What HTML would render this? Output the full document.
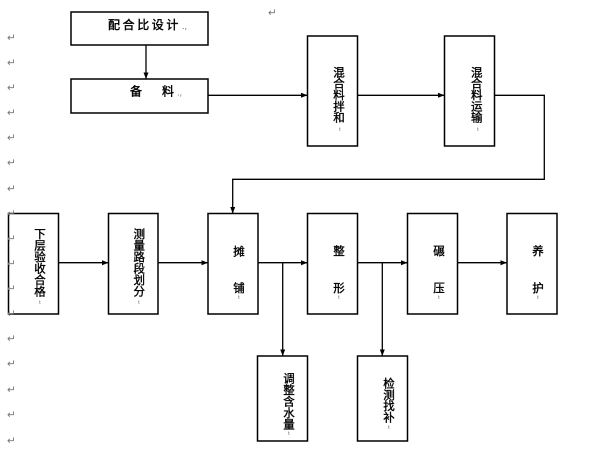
<!DOCTYPE html>
<html><head><meta charset="utf-8"><style>
html,body{margin:0;padding:0;background:#fff;width:600px;height:450px;overflow:hidden}
svg{display:block}
text{font-family:"Liberation Sans","Noto Sans CJK SC",sans-serif;fill:#000}
.c{font-size:11.5px;text-anchor:middle;stroke:#000;stroke-width:0.35px}
.m{font-size:8px;fill:#666;text-anchor:middle}
.p{font-size:10.5px;fill:#777}
</style></head><body>
<svg width="600" height="450" viewBox="0 0 600 450" xmlns="http://www.w3.org/2000/svg">
<defs>
<marker id="a" markerWidth="7" markerHeight="6" refX="6" refY="3" orient="auto" markerUnits="userSpaceOnUse">
<path d="M0,0.5 L6.5,3 L0,5.5 Z" fill="#000"/>
</marker>
</defs>
<g fill="none" stroke="#000" stroke-width="1.5">
<rect x="71" y="12" width="137" height="33"/>
<rect x="71" y="79" width="137" height="34"/>
<rect x="307.5" y="36" width="50" height="110"/>
<rect x="444.5" y="36" width="50" height="110"/>
<rect x="8.5" y="213.5" width="50" height="100.5"/>
<rect x="108.5" y="213.5" width="49.5" height="100.5"/>
<rect x="208" y="213.5" width="50" height="100.5"/>
<rect x="307.5" y="213.5" width="50" height="100.5"/>
<rect x="407.5" y="213.5" width="50" height="100.5"/>
<rect x="507" y="213.5" width="50" height="100.5"/>
<rect x="257.5" y="356" width="50" height="85"/>
<rect x="357.5" y="356" width="50" height="85"/>
</g>
<g fill="none" stroke="#000" stroke-width="1.3">
<line x1="146" y1="45" x2="146" y2="78.5" marker-end="url(#a)"/>
<line x1="208" y1="95.3" x2="307" y2="95.3" marker-end="url(#a)"/>
<line x1="357.5" y1="95.3" x2="444" y2="95.3" marker-end="url(#a)"/>
<polyline points="494.5,95.3 544.3,95.3 544.3,179.3 232.7,179.3 232.7,213" marker-end="url(#a)"/>
<line x1="58.5" y1="262.7" x2="108" y2="262.7" marker-end="url(#a)"/>
<line x1="158" y1="262.7" x2="207.5" y2="262.7" marker-end="url(#a)"/>
<line x1="258" y1="262.7" x2="307" y2="262.7" marker-end="url(#a)"/>
<line x1="357.5" y1="262.7" x2="407" y2="262.7" marker-end="url(#a)"/>
<line x1="457.5" y1="262.7" x2="506.5" y2="262.7" marker-end="url(#a)"/>
<line x1="282.7" y1="262.7" x2="282.7" y2="355.5" marker-end="url(#a)"/>
<line x1="382.3" y1="262.7" x2="382.3" y2="355.5" marker-end="url(#a)"/>
</g>
<text x="108" y="29" style="font-size:12px;letter-spacing:2.6px;stroke:#000;stroke-width:0.4px">配合比设计</text>
<text x="182" y="29" class="m" style="text-anchor:start;font-size:9px">.,</text>
<text x="136" y="95.5" style="font-size:12px;text-anchor:middle;stroke:#000;stroke-width:0.4px">备</text>
<text x="168" y="95.5" style="font-size:12px;text-anchor:middle;stroke:#000;stroke-width:0.4px">料</text>
<text x="177" y="95.5" class="m" style="text-anchor:start;font-size:9px">.,</text>
<text x="339" y="76.3" class="c">混</text><text x="339" y="87.6" class="c">合</text><text x="339" y="99" class="c">料</text><text x="339" y="110.3" class="c">拌</text><text x="339" y="121.6" class="c">和</text>
<text x="476.7" y="76.3" class="c">混</text><text x="476.7" y="87.6" class="c">合</text><text x="476.7" y="99" class="c">料</text><text x="476.7" y="110.3" class="c">运</text><text x="476.7" y="121.6" class="c">输</text>
<text x="40" y="237.8" class="c">下</text><text x="40" y="249.3" class="c">层</text><text x="40" y="260.8" class="c">验</text><text x="40" y="272.3" class="c">收</text><text x="40" y="283.8" class="c">合</text><text x="40" y="295.3" class="c">格</text>
<text x="139.3" y="237.8" class="c">测</text><text x="139.3" y="249.3" class="c">量</text><text x="139.3" y="260.8" class="c">路</text><text x="139.3" y="272.3" class="c">段</text><text x="139.3" y="283.8" class="c">划</text><text x="139.3" y="295.3" class="c">分</text>
<text x="239" y="255.7" class="c">摊</text><text x="239" y="292" class="c">铺</text>
<text x="339" y="255" class="c">整</text><text x="339" y="292" class="c">形</text>
<text x="439" y="255" class="c">碾</text><text x="439" y="292" class="c">压</text>
<text x="538" y="255" class="c">养</text><text x="538" y="292" class="c">护</text>
<text x="289" y="382.7" class="c">调</text><text x="289" y="394.1" class="c">整</text><text x="289" y="405.5" class="c">含</text><text x="289" y="416.9" class="c">水</text><text x="289" y="428.3" class="c">量</text>
<text x="389" y="387.6" class="c">检</text><text x="389" y="398.9" class="c">测</text><text x="389" y="410.1" class="c">找</text><text x="389" y="421.4" class="c">补</text>
<text x="340" y="133" class="m">ᵗ</text><text x="478" y="133" class="m">ᵗ</text>
<text x="40" y="306" class="m">ᵗ</text><text x="139" y="306" class="m">ᵗ</text><text x="239" y="301" class="m">ᵗ</text>
<text x="339" y="301" class="m">ᵗ</text><text x="439" y="301" class="m">ᵗ</text><text x="538" y="301" class="m">ᵗ</text>
<text x="289" y="437" class="m">ᵗ</text><text x="389" y="431" class="m">ᵗ</text>
<text x="268" y="16" class="p">↵</text>
<text x="7" y="41" class="p">↵</text><text x="7" y="66" class="p">↵</text><text x="7" y="91" class="p">↵</text><text x="7" y="116" class="p">↵</text>
<text x="7" y="141" class="p">↵</text><text x="7" y="166" class="p">↵</text><text x="7" y="192" class="p">↵</text><text x="7" y="217" class="p">↵</text>
<text x="7" y="242" class="p">↵</text><text x="7" y="267" class="p">↵</text><text x="7" y="292" class="p">↵</text><text x="7" y="317" class="p">↵</text>
<text x="7" y="342" class="p">↵</text><text x="7" y="367" class="p">↵</text><text x="7" y="393" class="p">↵</text><text x="7" y="418" class="p">↵</text>
<text x="7" y="444" class="p">↵</text>
</svg>
</body></html>
